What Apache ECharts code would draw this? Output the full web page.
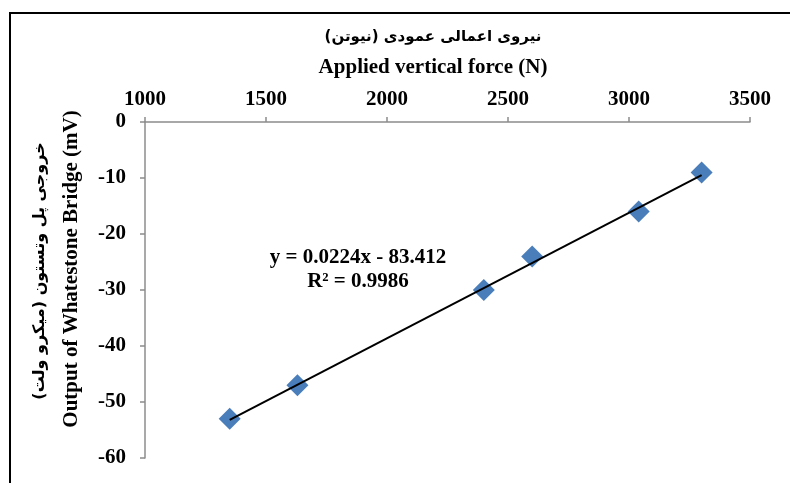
<!DOCTYPE html>
<html>
<head>
<meta charset="utf-8">
<script src="https://cdn.jsdelivr.net/npm/echarts@6/dist/echarts.min.js"></script>
<style>
  html, body { margin: 0; padding: 0; background: #fff; }
  #chart { width: 790px; height: 483px; }
</style>
</head>
<body>
<div id="chart"></div>
<script>
// Measured force (N) and bridge output (mV)
const forceN = [1350, 1630, 2400, 2600, 3040, 3300];
const outputMv = [-53, -47, -30, -24, -16, -9];

// Linear fit shown on the chart
const fitSlope = 0.0224;
const fitIntercept = -83.412;
const fitR2 = 0.9986;

// Axis ranges
const xTicks = [1000, 1500, 2000, 2500, 3000, 3500];
const yTicks = [0, -10, -20, -30, -40, -50, -60];

const serif = '"Liberation Serif", "Times New Roman", "DejaVu Serif", serif';
const persian = '"DejaVu Sans", "Noto Sans", sans-serif';

const points = forceN.map((x, i) => [x, outputMv[i]]);
const xMinData = Math.min(...forceN);
const xMaxData = Math.max(...forceN);
const fitLine = [xMinData, xMaxData].map(x => [x, fitSlope * x + fitIntercept]);

const chart = echarts.init(document.getElementById('chart'), null, { renderer: 'canvas' });

chart.setOption({
  backgroundColor: '#ffffff',
  animation: false,
  grid: { left: 145, right: 40, top: 122, bottom: 25 },
  xAxis: {
    type: 'value',
    position: 'top',
    min: xTicks[0],
    max: xTicks[xTicks.length - 1],
    interval: 500,
    splitLine: { show: false },
    axisLine: { show: true, onZero: false, lineStyle: { color: '#8c8c8c', width: 1.5 } },
    axisTick: { show: true, inside: false, length: 5, lineStyle: { color: '#8c8c8c', width: 1.5 } },
    axisLabel: {
      color: '#000', fontFamily: serif, fontWeight: 'bold', fontSize: 21, margin: 12,
      formatter: v => String(v)
    }
  },
  yAxis: {
    type: 'value',
    min: yTicks[yTicks.length - 1],
    max: yTicks[0],
    interval: 10,
    splitLine: { show: false },
    axisLine: { show: true, onZero: false, lineStyle: { color: '#8c8c8c', width: 1.5 } },
    axisTick: { show: true, length: 5, lineStyle: { color: '#8c8c8c', width: 1.5 } },
    axisLabel: {
      color: '#000', fontFamily: serif, fontWeight: 'bold', fontSize: 21, margin: 19,
      formatter: v => String(v)
    }
  },
  series: [
    {
      type: 'line',
      data: fitLine,
      symbol: 'none',
      lineStyle: { color: '#000', width: 2 },
      z: 3
    },
    {
      type: 'scatter',
      data: points,
      symbol: 'diamond',
      symbolSize: 22,
      itemStyle: { color: '#4a7ebb', opacity: 1 },
      z: 2
    }
  ],
  graphic: [
    {
      type: 'rect',
      shape: { x: 10, y: 13, width: 820, height: 520 },
      style: { fill: 'none', stroke: '#000', lineWidth: 2 },
      silent: true
    },
    {
      type: 'text',
      x: 433, y: 37,
      style: {
        text: 'نیروی اعمالی عمودی (نیوتن)',
        fontFamily: persian, fontWeight: 'bold', fontSize: 15,
        fill: '#000', textAlign: 'center', textVerticalAlign: 'middle'
      }
    },
    {
      type: 'text',
      x: 433, y: 68,
      style: {
        text: 'Applied vertical force (N)',
        fontFamily: serif, fontWeight: 'bold', fontSize: 21,
        fill: '#000', textAlign: 'center', textVerticalAlign: 'middle'
      }
    },
    {
      type: 'text',
      x: 40, y: 271, rotation: Math.PI / 2,
      style: {
        text: 'خروجی پل وتستون (میکرو ولت)',
        fontFamily: persian, fontWeight: 'bold', fontSize: 16,
        fill: '#000', textAlign: 'center', textVerticalAlign: 'middle'
      }
    },
    {
      type: 'text',
      x: 72, y: 269, rotation: Math.PI / 2,
      style: {
        text: 'Output of Whatestone Bridge (mV)',
        fontFamily: serif, fontWeight: 'bold', fontSize: 21,
        fill: '#000', textAlign: 'center', textVerticalAlign: 'middle'
      }
    },
    {
      type: 'text',
      x: 358, y: 270,
      style: {
        text: 'y = ' + fitSlope + 'x - ' + Math.abs(fitIntercept) + '\nR² = ' + fitR2,
        fontFamily: serif, fontWeight: 'bold', fontSize: 21, lineHeight: 24,
        fill: '#000', textAlign: 'center', textVerticalAlign: 'middle'
      }
    }
  ]
});
</script>
</body>
</html>
